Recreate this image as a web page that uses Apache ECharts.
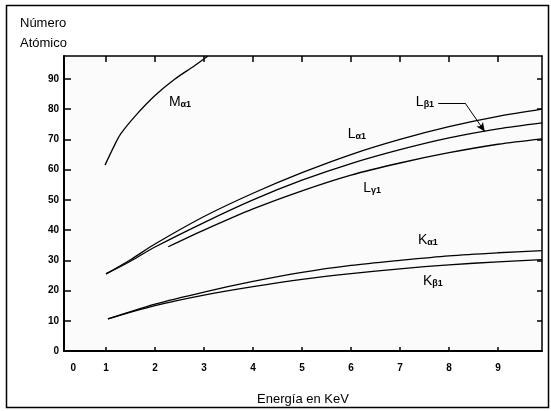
<!DOCTYPE html>
<html>
<head>
<meta charset="utf-8">
<script src="https://cdn.jsdelivr.net/npm/echarts@6/dist/echarts.min.js"></script>
<style>
html,body{margin:0;padding:0;background:#fff;}
#chart{width:551px;height:411px;}
</style>
</head>
<body>
<div id="chart"></div>
<script>
// ---- Data ----
const xTickValues = [1, 2, 3, 4, 5, 6, 7, 8, 9];
const xLabelValues = [0.33, 1, 2, 3, 4, 5, 6, 7, 8, 9];
const xTickLabels = ['0', '1', '2', '3', '4', '5', '6', '7', '8', '9'];
const yTickValues = [10, 20, 30, 40, 50, 60, 70, 80, 90];
const yLabelValues = [0, 10, 20, 30, 40, 50, 60, 70, 80, 90];

const mAlpha1 = [[0.98, 61.5], [1.15, 67.3], [1.3, 71.8], [1.6, 77.8], [2.0, 84.5], [2.4, 89.9], [2.8, 94.3], [3.08, 97.6]];
const lAlpha1 = [[1.0, 25.5], [1.5, 30.2], [2.0, 35.4], [3.0, 44.5], [4.0, 52.2], [5.0, 59.0], [6.0, 65.0], [7.0, 70.0], [8.0, 74.2], [9.0, 77.6], [9.9, 80.0]];
const lBeta1 = [[1.0, 25.5], [1.5, 29.7], [2.0, 34.4], [3.0, 42.5], [4.0, 50.0], [5.0, 56.5], [6.0, 62.0], [7.0, 66.6], [8.0, 70.5], [9.0, 73.5], [9.9, 75.5]];
const lGamma1 = [[2.27, 34.5], [3.0, 40.0], [4.0, 47.0], [5.0, 53.0], [6.0, 58.2], [7.0, 62.2], [8.0, 65.6], [9.0, 68.4], [9.9, 70.2]];
const kAlpha1 = [[1.04, 10.6], [2.0, 15.5], [3.0, 19.5], [4.0, 23.0], [5.0, 26.0], [6.0, 28.3], [7.0, 30.0], [8.0, 31.5], [9.0, 32.5], [9.9, 33.2]];
const kBeta1 = [[1.04, 10.6], [2.0, 15.0], [3.0, 18.5], [4.0, 21.3], [5.0, 23.7], [6.0, 25.6], [7.0, 27.2], [8.0, 28.5], [9.0, 29.5], [9.9, 30.2]];

const seriesNames = ['Mα1', 'Lα1', 'Lβ1', 'Lγ1', 'Kα1', 'Kβ1'];
const seriesLetters = ['M', 'L', 'L', 'L', 'K', 'K'];
const seriesSubs = ['α1', 'α1', 'β1', 'γ1', 'α1', 'β1'];
const seriesData = [mAlpha1, lAlpha1, lBeta1, lGamma1, kAlpha1, kBeta1];
const labelPos = [[2.51, 82.3], [6.12, 71.9], [7.51, 82.3], [6.43, 54.0], [7.57, 36.7], [7.67, 23.1]];
const arrowPts = [[7.78, 82.0], [8.33, 82.0], [8.73, 72.6]];

const xName = 'Energía en KeV';
const yName = 'Número\nAtómico';

const font = 'Liberation Sans, Arial, sans-serif';

const chart = echarts.init(document.getElementById('chart'), null, {renderer: 'canvas'});

const series = seriesData.map((d, i) => {
  const s = {
    name: seriesNames[i],
    type: 'line',
    data: d,
    smooth: 0.3,
    symbol: 'none',
    clip: true,
    lineStyle: {color: '#000', width: 1.3},
    markPoint: {
      symbol: 'circle',
      symbolSize: 0,
      silent: true,
      data: [{coord: labelPos[i], value: 0}],
      label: {
        show: true,
        position: 'inside',
        formatter: '{m|' + seriesLetters[i] + '}{s|' + seriesSubs[i] + '}',
        rich: {
          m: {fontFamily: font, fontSize: 14, color: '#000'},
          s: {fontFamily: font, fontSize: 9, fontWeight: 'bold', color: '#000', verticalAlign: 'bottom', padding: [4, 0, 0, 0]}
        }
      }
    }
  };
  if (i === 2) {
    s.markLine = {
      silent: true,
      symbol: ['none', 'none'],
      label: {show: false},
      lineStyle: {color: '#000', width: 1, type: 'solid'},
      data: [
        [{coord: arrowPts[0]}, {coord: arrowPts[1]}],
        [{coord: arrowPts[1]}, {coord: arrowPts[2], symbol: 'arrow', symbolSize: [6, 9]}]
      ]
    };
  }
  return s;
});

chart.setOption({
  animation: false,
  backgroundColor: '#ffffff',
  title: {
    text: yName,
    left: 15,
    top: 8,
    textStyle: {fontFamily: font, fontSize: 13, fontWeight: 'normal', color: '#000', lineHeight: 20}
  },
  grid: {
    left: 64, right: 9, top: 56, bottom: 55,
    show: true, backgroundColor: '#fbfbfb', borderWidth: 0
  },
  graphic: [{
    type: 'rect',
    shape: {x: 6.5, y: 5.5, width: 542, height: 402},
    style: {fill: 'none', stroke: '#000', lineWidth: 1.5},
    silent: true,
    z: 100
  }],
  xAxis: [{
    type: 'value',
    min: 0.143, max: 9.898,
    name: xName,
    nameLocation: 'middle',
    nameGap: 42,
    nameTextStyle: {fontFamily: font, fontSize: 13, color: '#000'},
    axisLine: {show: true, onZero: false, lineStyle: {color: '#000', width: 2}},
    axisTick: {show: true, inside: true, length: 4, customValues: xTickValues, lineStyle: {color: '#000', width: 1.5}},
    axisLabel: {
      customValues: xLabelValues,
      margin: 12,
      fontFamily: font, fontSize: 10, fontWeight: 'bold', color: '#000',
      formatter: (v) => xTickLabels[xLabelValues.indexOf(v)]
    },
    splitLine: {show: false}
  }, {
    type: 'value',
    position: 'top',
    min: 0.143, max: 9.898,
    axisLine: {show: true, onZero: false, lineStyle: {color: '#000', width: 1.5}},
    axisTick: {show: true, inside: true, length: 6, customValues: xTickValues, lineStyle: {color: '#000', width: 1.5}},
    axisLabel: {show: false},
    splitLine: {show: false}
  }],
  yAxis: [{
    type: 'value',
    min: 0, max: 97.6,
    axisLine: {show: true, onZero: false, lineStyle: {color: '#000', width: 2}},
    axisTick: {show: true, inside: true, length: 7, customValues: yTickValues, lineStyle: {color: '#000', width: 1.5}},
    axisLabel: {
      customValues: yLabelValues,
      margin: 5,
      fontFamily: font, fontSize: 10, fontWeight: 'bold', color: '#000'
    },
    splitLine: {show: false}
  }, {
    type: 'value',
    position: 'right',
    min: 0, max: 97.6,
    axisLine: {show: true, onZero: false, lineStyle: {color: '#000', width: 1.5}},
    axisTick: {show: true, inside: true, length: 5, customValues: yTickValues, lineStyle: {color: '#000', width: 1.5}},
    axisLabel: {show: false},
    splitLine: {show: false}
  }],
  series: series
});
</script>
</body>
</html>
